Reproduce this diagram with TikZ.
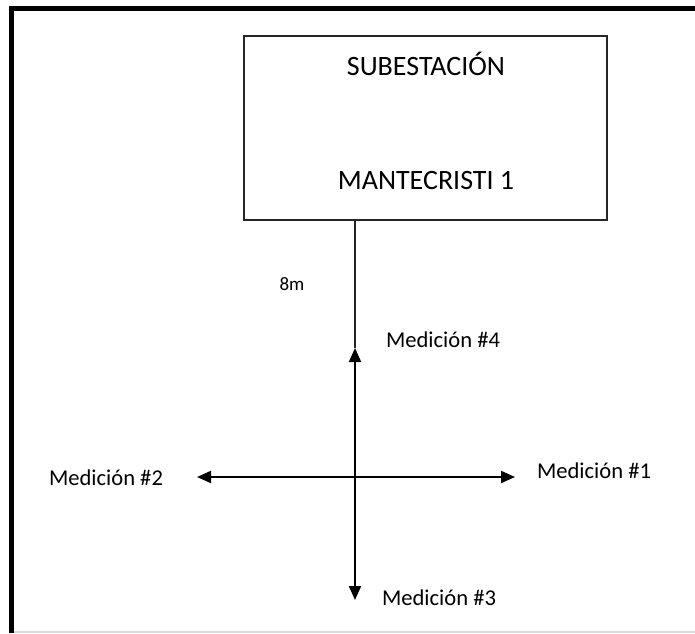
\documentclass[tikz,border=0pt]{standalone}
\usepackage{fontspec}
\setmainfont{Carlito}
\usetikzlibrary{arrows.meta, positioning}
\tikzset{
  station/.style={rectangle, minimum width=363pt, minimum height=184pt, draw=black!85, line width=1.6pt, inner sep=0pt},
  boxtext/.style={font=\fontsize{28}{32}\selectfont, inner sep=0pt},
  medlabel/.style={font=\fontsize{22.6}{26}\selectfont, inner sep=0pt},
  distlabel/.style={font=\fontsize{19}{23}\selectfont, inner sep=0pt},
  frame/.style={line width=5pt, black},
  link/.style={line width=1.8pt, draw=black!85},
  arrow/.style={line width=2pt, {Triangle[length=14pt,width=12pt]}-{Triangle[length=14pt,width=12pt]}}
}

\begin{document}
\begin{tikzpicture}[x=1pt, y=-1pt]

  \useasboundingbox (0,0) rectangle (695,633);

  % outer frame
  \draw [frame] (9,8.5) -- (695,8.5);
  \draw [frame] (11.5,6) -- (11.5,633);
  \draw [line width=1.5pt, black!15] (14,632) -- (695,632);

  \node (sub) [station] at (425.5,128) {};
  \node (line1) [boxtext] at (426,64) {SUBESTACIÓN};
  \node (line2) [boxtext] at (426,181) {MANTECRISTI 1};

  \coordinate (tip4) at (355,348);
  \coordinate (tip3) at (355,600);
  \coordinate (tip2) at (197,477);
  \coordinate (tip1) at (515,477);

  \node (dist) [distlabel] at (292,284) {8m};
  \node (med4) [medlabel] at (443,340) {Medición \#4};
  \node (med2) [medlabel] at (106,478) {Medición \#2};
  \node (med1) [medlabel] at (594,471) {Medición \#1};
  \node (med3) [medlabel] at (439,598) {Medición \#3};

  \draw [link] (sub.south -| tip4) -- (tip4);
  \draw [arrow] (tip4) -- (tip3);
  \draw [arrow] (tip2) -- (tip1);

\end{tikzpicture}
\end{document}
